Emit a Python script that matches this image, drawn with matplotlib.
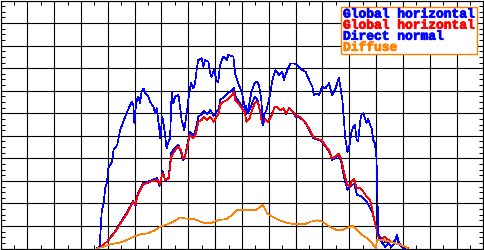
import numpy as np
import matplotlib
matplotlib.use("Agg")
import matplotlib.pyplot as plt
import matplotlib.patheffects as pe
from matplotlib.ticker import MultipleLocator, NullFormatter
from matplotlib.patches import Rectangle

# ======= DATA (time in hours, irradiance in W/m2) =======
gh_red_t = [6.58, 6.76, 6.97, 7.13, 7.28, 7.51, 7.72, 7.84, 7.94, 8.03, 8.11, 8.21, 8.31, 8.46, 8.65,
            8.84, 8.93, 9.04, 9.14, 9.27, 9.36, 9.44, 9.52, 9.63, 9.73, 9.80, 9.86, 9.95, 10.06, 10.19,
            10.26, 10.32, 10.37, 10.50, 10.57, 10.70, 10.82, 10.94, 11.13, 11.19, 11.32, 11.44, 11.63,
            11.69, 11.75, 11.87, 11.99, 12.10, 12.16, 12.28, 12.38, 12.47, 12.56, 12.62, 12.68, 12.75,
            12.84, 12.97, 13.09, 13.21, 13.29, 13.42, 13.54, 13.64, 13.76, 13.89, 14.01, 14.16, 14.35,
            14.53, 14.66, 14.84, 14.97, 15.09, 15.28, 15.34, 15.46, 15.59, 15.69, 15.81, 15.93, 16.02,
            16.08, 16.18, 16.27, 16.40, 16.52, 16.64, 16.77, 16.86, 16.93, 17.01, 17.08, 17.20, 17.33,
            17.45, 17.64, 17.82, 18.01, 18.19]
gh_red_v = [0, 11, 30, 51, 75, 118, 156, 184, 205, 193, 237, 259, 285, 289, 299,
            304, 285, 334, 304, 311, 407, 422, 437, 451, 437, 400, 400, 444, 503, 489,
            503, 526, 562, 570, 585, 570, 585, 562, 600, 636, 651, 659, 681,
            695, 659, 644, 622, 607, 562, 577, 614, 644, 651, 636, 600, 555,
            577, 562, 585, 629, 629, 614, 622, 600, 622, 607, 588, 585, 562,
            526, 493, 484, 481, 459, 429, 400, 407, 422, 400, 334, 282, 274,
            296, 311, 267, 267, 252, 230, 215, 171, 126, 89, 52, 45, 52,
            38, 26, 20, 11, 1]

gh_blue_t = [6.58, 6.76, 6.97, 7.13, 7.28, 7.51, 7.72, 7.84, 7.94, 8.03, 8.11, 8.21, 8.31, 8.46, 8.65,
             8.84, 8.93, 9.04, 9.14, 9.27, 9.36, 9.44, 9.52, 9.63, 9.73, 9.80, 9.86, 9.95, 10.06, 10.19,
             10.26, 10.32, 10.37, 10.50, 10.57, 10.70, 10.82, 10.94, 11.13, 11.19, 11.32, 11.44, 11.63,
             11.69, 11.75, 11.87, 11.99, 12.10, 12.16, 12.28, 12.38, 12.47, 12.56, 12.62, 12.68, 12.78,
             12.84, 12.97, 13.09, 13.21, 13.29, 13.42, 13.54, 13.64, 13.76, 13.89, 14.01, 14.16, 14.35,
             14.53, 14.66, 14.84, 14.97, 15.09, 15.28, 15.34, 15.46, 15.59, 15.69, 15.81, 15.93, 16.02,
             16.11, 16.18, 16.29, 16.44, 16.56, 16.70, 16.85, 16.98, 17.05, 17.15, 17.23, 17.34, 17.48,
             17.60, 17.71, 17.78, 17.85, 17.97, 18.08]
gh_blue_v = [0, 11, 30, 55, 78, 122, 162, 188, 211, 188, 242, 264, 290, 295, 304,
             313, 277, 344, 299, 317, 424, 437, 450, 459, 428, 392, 397, 455, 517, 499,
             521, 552, 583, 597, 610, 597, 614, 588, 619, 659, 672, 685, 703,
             712, 676, 654, 632, 623, 597, 614, 645, 672, 663, 641, 605, 547,
             574, 565, 588, 627, 629, 612, 620, 598, 623, 605, 583, 581, 559,
             521, 490, 481, 477, 455, 424, 392, 401, 415, 388, 313, 259, 273,
             282, 286, 237, 233, 220, 197, 162, 104, 64, 38, 23, 29, 30,
             27, 38, 60, 23, 7, 2]

dn_t = [6.58, 6.71, 6.72, 6.77, 6.85, 6.90, 6.97, 7.02, 7.16, 7.21, 7.35, 7.46, 7.53, 7.70, 7.89,
        7.95, 7.99, 8.03, 8.08, 8.14, 8.20, 8.26, 8.33, 8.39, 8.51, 8.57, 8.70, 8.76, 8.82, 8.91,
        8.95, 9.03, 9.11, 9.19, 9.26, 9.32, 9.38, 9.44, 9.51, 9.63, 9.69, 9.75, 9.85, 9.94, 10.03,
        10.10, 10.19, 10.25, 10.31, 10.37, 10.50, 10.56, 10.62, 10.75, 10.81, 10.87, 10.95, 11.07,
        11.12, 11.18, 11.30, 11.43, 11.49, 11.68, 11.74, 11.86, 11.99, 12.09, 12.16, 12.20, 12.32,
        12.35, 12.47, 12.56, 12.63, 12.72, 12.78, 12.82, 12.91, 13.03, 13.09, 13.16, 13.25, 13.38,
        13.50, 13.56, 13.69, 13.81, 13.94, 14.06, 14.25, 14.37, 14.50, 14.62, 14.68, 14.81, 14.87,
        14.99, 15.11, 15.24, 15.36, 15.49, 15.61, 15.74, 15.80, 15.84, 15.93, 16.02, 16.08, 16.15,
        16.21, 16.27, 16.33, 16.40, 16.45, 16.52, 16.58, 16.64, 16.70, 16.77, 16.83, 16.89, 16.95,
        17.01, 17.05, 17.08, 17.14, 17.20, 17.33, 17.45, 17.57, 17.70, 17.76, 17.82, 17.94, 18.04]
dn_v = [1, 8, 60, 162, 208, 268, 296, 357, 385, 437, 459, 526, 548, 600, 651,
        636, 555, 614, 659, 673, 644, 695, 710, 688, 673, 651, 629, 600, 622, 540,
        489, 585, 526, 444, 474, 489, 695, 644, 673, 681, 629, 570, 526, 600, 688,
        733, 710, 733, 792, 836, 844, 806, 836, 828, 777, 762, 792, 740,
        740, 814, 851, 836, 858, 851, 777, 733, 695, 636, 629, 600, 673,
        695, 733, 740, 725, 659, 548, 592, 614, 673, 718, 762, 792, 769,
        784, 747, 792, 821, 821, 814, 792, 784, 747, 718, 681, 688, 681,
        718, 710, 733, 681, 710, 759, 659, 570, 496, 429, 467, 518, 540,
        548, 481, 474, 562, 592, 600, 577, 555, 577, 548, 533, 481, 467,
        407, 215, 67, 52, 30, 8, 23, 8, 23, 60, 30, 8, 0]

diff_t = [6.58, 6.85, 7.10, 7.47, 7.72, 7.96, 8.21, 8.46, 8.71, 8.96, 9.21, 9.45, 9.70, 9.83, 10.08,
          10.26, 10.45, 10.57, 10.87, 11.12, 11.44, 11.63, 11.80, 12.05, 12.26, 12.51, 12.69, 12.78,
          12.94, 13.13, 13.38, 13.62, 13.87, 14.12, 14.37, 14.56, 14.81, 14.99, 15.18, 15.36, 15.55,
          15.74, 15.92, 16.11, 16.29, 16.48, 16.67, 16.85, 16.98, 17.04, 17.23, 17.41, 17.60, 17.85,
          18.09, 18.16]
diff_v = [0, 8, 19, 27, 38, 52, 63, 67, 78, 97, 107, 119, 138, 134, 131,
          129, 119, 114, 114, 126, 131, 149, 171, 171, 171, 171, 185, 193,
          156, 141, 126, 116, 109, 107, 109, 119, 125, 119, 104, 90, 81,
          82, 92, 101, 82, 60, 45, 23, 1, 38, 38, 33, 27, 19,
          8, 0]

labels = ["Global horizontal", "Global horizontal", "Direct normal", "Diffuse"]
BLUE = "#0000ff"
RED = "#ff0000"
ORANGE = "#ff8000"
label_colors = [BLUE, RED, BLUE, ORANGE]

fig = plt.figure(figsize=(4.85, 2.5), dpi=100)
ax = fig.add_axes([0.5 / 485, 1.5 / 250, 483 / 485, 248 / 250])

LW = 0.5
ax.plot(gh_blue_t, gh_blue_v, color=BLUE, lw=LW, antialiased=False, zorder=3)
ax.plot(gh_red_t, gh_red_v, color=RED, lw=LW, antialiased=False, zorder=4)
ax.plot(dn_t, dn_v, color=BLUE, lw=LW, antialiased=False, zorder=5)
ax.plot(diff_t, diff_v, color=ORANGE, lw=LW, antialiased=False, zorder=6)

ax.set_xlim(3, 21)
ax.set_ylim(0, 1100)
ax.xaxis.set_major_locator(MultipleLocator(1))
ax.xaxis.set_minor_locator(MultipleLocator(0.5))
ax.yaxis.set_major_locator(MultipleLocator(100))
ax.yaxis.set_minor_locator(MultipleLocator(25))
ax.xaxis.set_major_formatter(NullFormatter())
ax.yaxis.set_major_formatter(NullFormatter())
ax.tick_params(which="both", direction="in", top=True, right=True, color="black", width=0.72)
ax.tick_params(which="major", length=3)
ax.tick_params(which="minor", length=3)
ax.grid(True, which="major", color="black", lw=0.8, antialiased=True)
ax.set_axisbelow(True)
for s in ax.spines.values():
    s.set_color("black")
    s.set_linewidth(0.8)

# legend box, drawn by hand (axes fraction coords)
def fx(px):
    return (px - 0.5) / 483

def fy(py):
    return (248.5 - py) / 248

ax.add_patch(Rectangle((fx(341), fy(54)), fx(477) - fx(341), fy(7) - fy(54),
                       transform=ax.transAxes, facecolor="white", edgecolor=ORANGE,
                       lw=1.0, zorder=10))
for i, (lab, c) in enumerate(zip(labels, label_colors)):
    ax.text(fx(343), fy(14.5 + i * 11.1), lab, transform=ax.transAxes, color=c,
            ha="left", va="center", family="Liberation Mono", weight="bold",
            fontsize=9.3, zorder=11,
            path_effects=[pe.withStroke(linewidth=0.6, foreground=c)])

fig.savefig("out.png", dpi=100)
